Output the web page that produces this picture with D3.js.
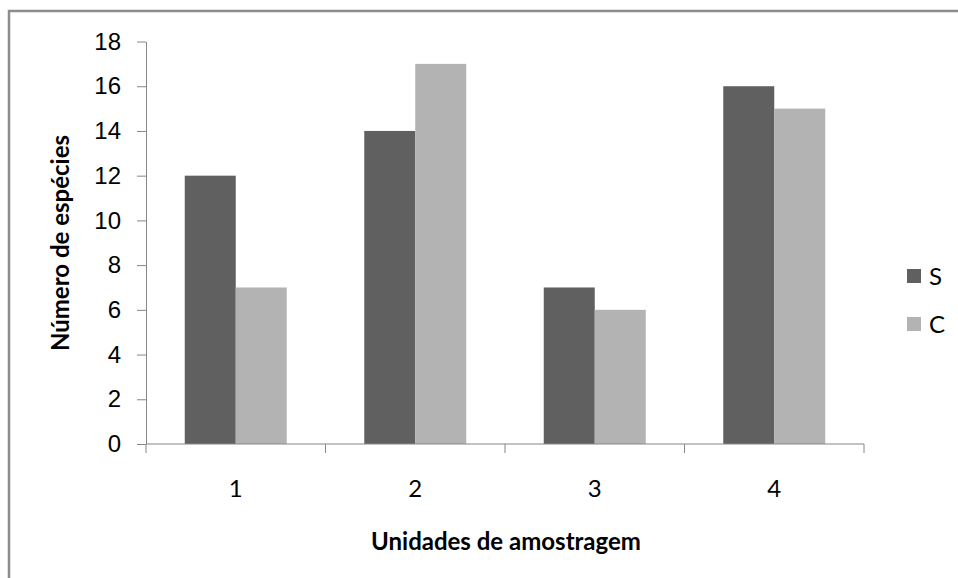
<!DOCTYPE html>
<html>
<head>
<meta charset="utf-8">
<script src="https://cdn.jsdelivr.net/npm/d3@7/dist/d3.min.js"></script>
<style>
  html, body { margin: 0; padding: 0; background: #fff; }
  svg { display: block; font-family: Lato, "Open Sans", sans-serif; }
</style>
</head>
<body>
<svg id="chart" width="958" height="578"></svg>
<script>
// Species counts per sampling unit, for the two treatments S and C
const categories = ["1", "2", "3", "4"];
const seriesNames = ["S", "C"];
const valuesS = [12, 14, 7, 16];
const valuesC = [7, 17, 6, 15];
const yTicks = [0, 2, 4, 6, 8, 10, 12, 14, 16, 18];
const colors = { S: "#606060", C: "#b3b3b3" };

const svg = d3.select("#chart");
const W = 958, H = 578;
const plot = { left: 146, right: 864, top: 41.5, bottom: 444 };

// Outer chart frame (runs past the right and bottom edges)
svg.append("rect")
  .attr("x", 9).attr("y", 11)
  .attr("width", W + 20).attr("height", H + 20)
  .attr("fill", "#fff")
  .attr("stroke", "#8c8c8c").attr("stroke-width", 2.5);

const x0 = d3.scaleBand().domain(categories).range([plot.left, plot.right]).padding(0);
const x1 = d3.scaleBand().domain(seriesNames).range([0, x0.bandwidth()])
  .paddingInner(0).paddingOuter(0.76);
const y = d3.scaleLinear().domain([0, 18]).range([plot.bottom, plot.top]);

const rows = categories.map((c, i) => ({ cat: c, S: valuesS[i], C: valuesC[i] }));

// Bars
const groups = svg.append("g").selectAll("g").data(rows).join("g")
  .attr("transform", d => `translate(${x0(d.cat)},0)`);
groups.selectAll("rect")
  .data(d => seriesNames.map(k => ({ key: k, value: d[k] })))
  .join("rect")
  .attr("x", d => x1(d.key))
  .attr("y", d => y(d.value))
  .attr("width", x1.bandwidth())
  .attr("height", d => y(0) - y(d.value))
  .attr("fill", d => colors[d.key]);

// Y axis
const yAxis = svg.append("g")
  .attr("transform", `translate(${plot.left},0)`)
  .call(d3.axisLeft(y).tickValues(yTicks).tickSize(9).tickPadding(16).tickSizeOuter(0));
yAxis.select(".domain").attr("stroke", "#868686");
yAxis.selectAll(".tick line").attr("stroke", "#868686");
yAxis.selectAll(".tick text").attr("fill", "#000").style("font-size", "24px");

// X axis: ticks sit on the category boundaries
const xAxis = svg.append("g")
  .attr("transform", `translate(0,${plot.bottom})`);
xAxis.append("line")
  .attr("x1", plot.left).attr("x2", plot.right)
  .attr("stroke", "#868686");
const bounds = categories.map(c => x0(c)).concat([x0(categories[categories.length - 1]) + x0.bandwidth()]);
xAxis.selectAll("line.tick").data(bounds).join("line")
  .attr("class", "tick")
  .attr("x1", d => d).attr("x2", d => d)
  .attr("y1", 0).attr("y2", 9)
  .attr("stroke", "#868686");
xAxis.selectAll("text").data(categories).join("text")
  .attr("x", d => x0(d) + x0.bandwidth() / 2)
  .attr("y", 53)
  .attr("text-anchor", "middle")
  .style("font-size", "24px")
  .text(d => d);

// Axis titles
svg.append("text")
  .attr("transform", `translate(69,243) rotate(-90)`)
  .attr("text-anchor", "middle")
  .style("font-size", "24px").style("font-weight", "bold")
  .text("Número de espécies");
svg.append("text")
  .attr("x", 506).attr("y", 550)
  .attr("text-anchor", "middle")
  .style("font-size", "24px").style("font-weight", "bold")
  .text("Unidades de amostragem");

// Legend
const legend = svg.append("g").selectAll("g").data(seriesNames).join("g")
  .attr("transform", (d, i) => `translate(907,${269 + i * 48})`);
legend.append("rect")
  .attr("width", 14).attr("height", 14)
  .attr("fill", d => colors[d]);
legend.append("text")
  .attr("x", 22).attr("y", 16)
  .style("font-size", "24px")
  .text(d => d);
</script>
</body>
</html>
